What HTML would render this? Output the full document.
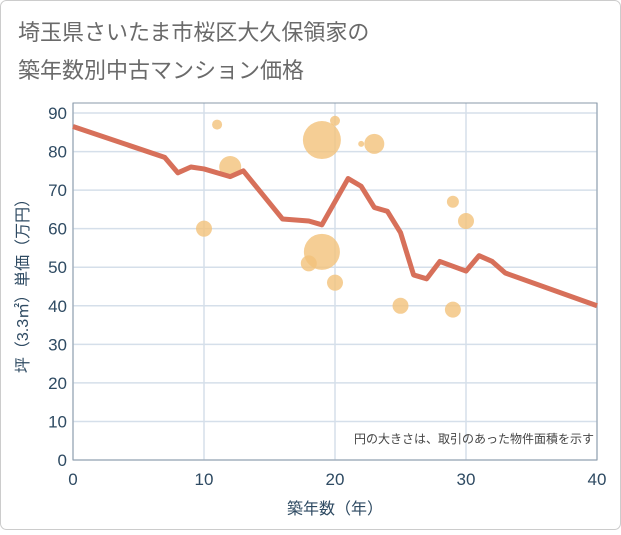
<!DOCTYPE html>
<html><head><meta charset="utf-8"><style>
body{margin:0;background:#fff;font-family:"Liberation Sans","Noto Sans CJK JP",sans-serif;}
svg text{font-family:"Liberation Sans","Noto Sans CJK JP",sans-serif;}
</style></head><body>
<svg id="c" width="621" height="530" xmlns="http://www.w3.org/2000/svg">
<rect x="0.5" y="0.5" width="620" height="529" rx="6" fill="#fff" stroke="#ccc"/>
<text x="18" y="40" font-size="22" fill="#6a6a6a">埼玉県さいたま市桜区大久保領家の</text>
<text x="18" y="78" font-size="22" fill="#6a6a6a">築年数別中古マンション価格</text>
<g id="grid"></g>
<rect x="73" y="103" width="524" height="357" fill="none" stroke="#8a9aa8"/>
<g id="bubbles"></g>
<g id="line"></g>
<g id="axes"></g>
<text x="594" y="443" font-size="12" fill="#444" text-anchor="end">円の大きさは、取引のあった物件面積を示す</text>
<text x="335" y="514" font-size="16" fill="#2e4a62" text-anchor="middle">築年数（年）</text>
<text transform="translate(28,282) rotate(-90)" font-size="16" fill="#2e4a62" text-anchor="middle">坪（3.3㎡）単価（万円）</text>
</svg>
<script>
const xTicks=[0,10,20,30,40];
const yTicks=[0,10,20,30,40,50,60,70,80,90];
const lineYears=[0,7,8,9,10,12,13,16,18,19,21,22,23,24,25,26,27,28,30,31,32,33,40];
const linePrices=[86.5,78.5,74.5,76,75.5,73.5,75,62.5,62,61,73,71,65.5,64.5,59,48,47,51.5,49,53,51.5,48.5,40];
const bubbleYears=[11,20,19,22,23,12,10,29,30,18,19,20,25,29];
const bubblePrices=[87,88,83,82,82,76,60,67,62,51,54,46,40,39];
const bubbleSizes=[5,5,19,3,10,11,8,6,8,8,18,8,8,8];
const NS='http://www.w3.org/2000/svg';
const X=v=>73+v*(524/40), Y=v=>460-v*(357/92.6);
function mk(t,a,p){const e=document.createElementNS(NS,t);for(const k in a)e.setAttribute(k,a[k]);p.appendChild(e);return e;}
const g=document.getElementById('grid'),ax=document.getElementById('axes');
xTicks.forEach(t=>{const l=mk('line',{x1:X(t),x2:X(t),y1:103,y2:460,stroke:'#d5dfea','stroke-width':1.5},g);

const s=mk('text',{x:X(t),y:485,'font-size':17,fill:'#2e4a62','text-anchor':'middle'},ax);s.textContent=t;
});
yTicks.forEach(t=>{const l=mk('line',{x1:73,x2:597,y1:Y(t),y2:Y(t),stroke:'#d5dfea','stroke-width':1.5},g);

const s=mk('text',{x:67,y:Y(t)+6,'font-size':17,fill:'#2e4a62','text-anchor':'end'},ax);s.textContent=t;
});
const b=document.getElementById('bubbles');
bubbleYears.forEach((yr,i)=>{const c=mk('circle',{cx:X(yr),cy:Y(bubblePrices[i]),r:bubbleSizes[i],fill:'#f3c27a','fill-opacity':0.8},b);
});
const p=mk('polyline',{points:lineYears.map((yr,i)=>X(yr)+','+Y(linePrices[i])).join(' '),fill:'none',stroke:'#d7705a','stroke-width':5,'stroke-linejoin':'round'},document.getElementById('line'));

</script>
</body></html>
